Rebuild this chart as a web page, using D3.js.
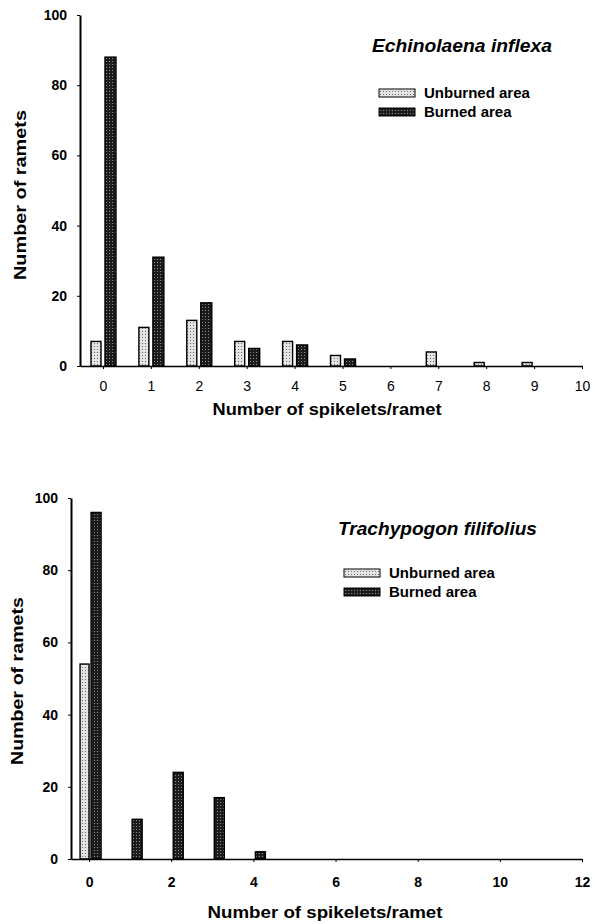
<!DOCTYPE html>
<html>
<head>
<meta charset="utf-8">
<script src="https://cdnjs.cloudflare.com/ajax/libs/d3/7.8.5/d3.min.js"></script>
<style>
  body { margin: 0; background: #fff; }
  svg { display: block; font-family: "Liberation Sans", Arial, sans-serif; }
</style>
</head>
<body>
<div id="chart"></div>
<script>
// data
var seriesNames = ["Unburned area", "Burned area"];
var yTicks = [0, 20, 40, 60, 80, 100];

var echinoCategories = [0, 1, 2, 3, 4, 5, 6, 7, 8, 9, 10];
var echinoUnburned = [7, 11, 13, 7, 7, 3, 0, 4, 1, 1, 0];
var echinoBurned = [88, 31, 18, 5, 6, 2, 0, 0, 0, 0, 0];
var echinoTicksX = [0, 1, 2, 3, 4, 5, 6, 7, 8, 9, 10];

var trachyCategories = [0, 1, 2, 3, 4];
var trachyUnburned = [54, 0, 0, 0, 0];
var trachyBurned = [96, 11, 24, 17, 2];
var trachyTicksX = [0, 2, 4, 6, 8, 10, 12];

var svg = d3.select("#chart").append("svg")
    .attr("width", 599)
    .attr("height", 924);

// stipple patterns for the two series
var defs = svg.append("defs");
function stipple(id, bg, dot) {
    var p = defs.append("pattern")
        .attr("id", id)
        .attr("patternUnits", "userSpaceOnUse")
        .attr("width", 3).attr("height", 3);
    p.append("rect").attr("width", 3).attr("height", 3).attr("fill", bg);
    p.append("rect").attr("x", 1).attr("y", 1).attr("width", 1).attr("height", 1).attr("fill", dot);
}
stipple("pat-unburned", "#e4e4e4", "#6a6a6a");
stipple("pat-burned", "#1c1c1c", "#8a8a8a");
var fills = ["url(#pat-unburned)", "url(#pat-burned)"];

function drawPanel(cfg) {
    var x = d3.scaleLinear().domain(cfg.xDomain).range(cfg.xRange);
    var y = d3.scaleLinear().domain([0, 100]).range(cfg.yRange);
    var g = svg.append("g");

    // bars
    var series = [cfg.unburned, cfg.burned];
    series.forEach(function(vals, s) {
        g.selectAll(null)
            .data(cfg.categories.map(function(c, i) { return {c: c, v: vals[i]}; })
                .filter(function(d) { return d.v > 0; }))
            .enter().append("rect")
            .attr("x", function(d) { return x(d.c) + cfg.barOffset[s]; })
            .attr("width", cfg.barWidth[s])
            .attr("y", function(d) { return y(d.v); })
            .attr("height", function(d) { return y(0) - y(d.v); })
            .attr("fill", fills[s])
            .attr("stroke", "#000")
            .attr("stroke-width", 1.4);
    });

    // y axis
    var yAxis = g.append("g")
        .attr("transform", "translate(" + cfg.xRange[0] + ",0)")
        .call(d3.axisLeft(y).tickValues(yTicks).tickSize(3).tickPadding(10).tickSizeOuter(0));
    yAxis.select(".domain").attr("stroke-width", 2);
    yAxis.selectAll("text")
        .attr("font-size", 14).attr("font-weight", "bold").attr("fill", "#000");

    // x axis
    var xAxis = g.append("g")
        .attr("transform", "translate(0," + cfg.yRange[0] + ")")
        .call(d3.axisBottom(x).tickValues(cfg.ticksX).tickSize(3).tickPadding(cfg.xTickPad).tickSizeOuter(0));
    xAxis.select(".domain").attr("stroke-width", 1.5);
    xAxis.selectAll("text")
        .attr("font-size", 14).attr("font-weight", cfg.xTickWeight).attr("fill", "#000");

    // axis titles
    g.append("text")
        .attr("x", cfg.xLabelPos[0]).attr("y", cfg.xLabelPos[1])
        .attr("text-anchor", "middle")
        .attr("font-size", 17).attr("font-weight", "bold")
        .attr("textLength", cfg.xLabelLen).attr("lengthAdjust", "spacingAndGlyphs")
        .text("Number of spikelets/ramet");
    g.append("text")
        .attr("transform", "translate(" + cfg.yLabelPos[0] + "," + cfg.yLabelPos[1] + ") rotate(-90)")
        .attr("text-anchor", "middle")
        .attr("font-size", 17).attr("font-weight", "bold")
        .attr("textLength", cfg.yLabelLen).attr("lengthAdjust", "spacingAndGlyphs")
        .text("Number of ramets");

    // species name
    g.append("text")
        .attr("x", cfg.titlePos[0]).attr("y", cfg.titlePos[1])
        .attr("font-size", 18).attr("font-weight", "bold").attr("font-style", "italic")
        .attr("textLength", cfg.titleLen).attr("lengthAdjust", "spacingAndGlyphs")
        .text(cfg.title);

    // legend
    var leg = g.selectAll(".legend")
        .data(seriesNames)
        .enter().append("g")
        .attr("transform", function(d, i) {
            return "translate(" + cfg.legendPos[0] + "," + (cfg.legendPos[1] + i * 19) + ")";
        });
    leg.append("rect")
        .attr("x", 0).attr("y", -4).attr("width", 36).attr("height", 8)
        .attr("fill", function(d, i) { return fills[i]; })
        .attr("stroke", "#000").attr("stroke-width", 1);
    leg.append("text")
        .attr("x", 45).attr("y", 5)
        .attr("font-size", 15).attr("font-weight", "bold")
        .text(function(d) { return d; });
}

drawPanel({
    categories: echinoCategories, unburned: echinoUnburned, burned: echinoBurned,
    ticksX: echinoTicksX,
    xDomain: [-0.48, 10], xRange: [80, 582], yRange: [366, 15],
    barOffset: [-12, 2], barWidth: [10, 11],
    xTickPad: 12, xTickWeight: "normal",
    xLabelPos: [327, 415], xLabelLen: 229,
    yLabelPos: [26, 195], yLabelLen: 170,
    title: "Echinolaena inflexa", titlePos: [372, 52], titleLen: 180,
    legendPos: [379, 93]
});

drawPanel({
    categories: trachyCategories, unburned: trachyUnburned, burned: trachyBurned,
    ticksX: trachyTicksX,
    xDomain: [-0.44, 12], xRange: [71, 582], yRange: [859, 498],
    barOffset: [-9, 2], barWidth: [9, 10],
    xTickPad: 15, xTickWeight: "bold",
    xLabelPos: [325, 918], xLabelLen: 235,
    yLabelPos: [23, 681], yLabelLen: 168,
    title: "Trachypogon filifolius", titlePos: [338, 535], titleLen: 199,
    legendPos: [344, 573]
});
</script>
</body>
</html>
